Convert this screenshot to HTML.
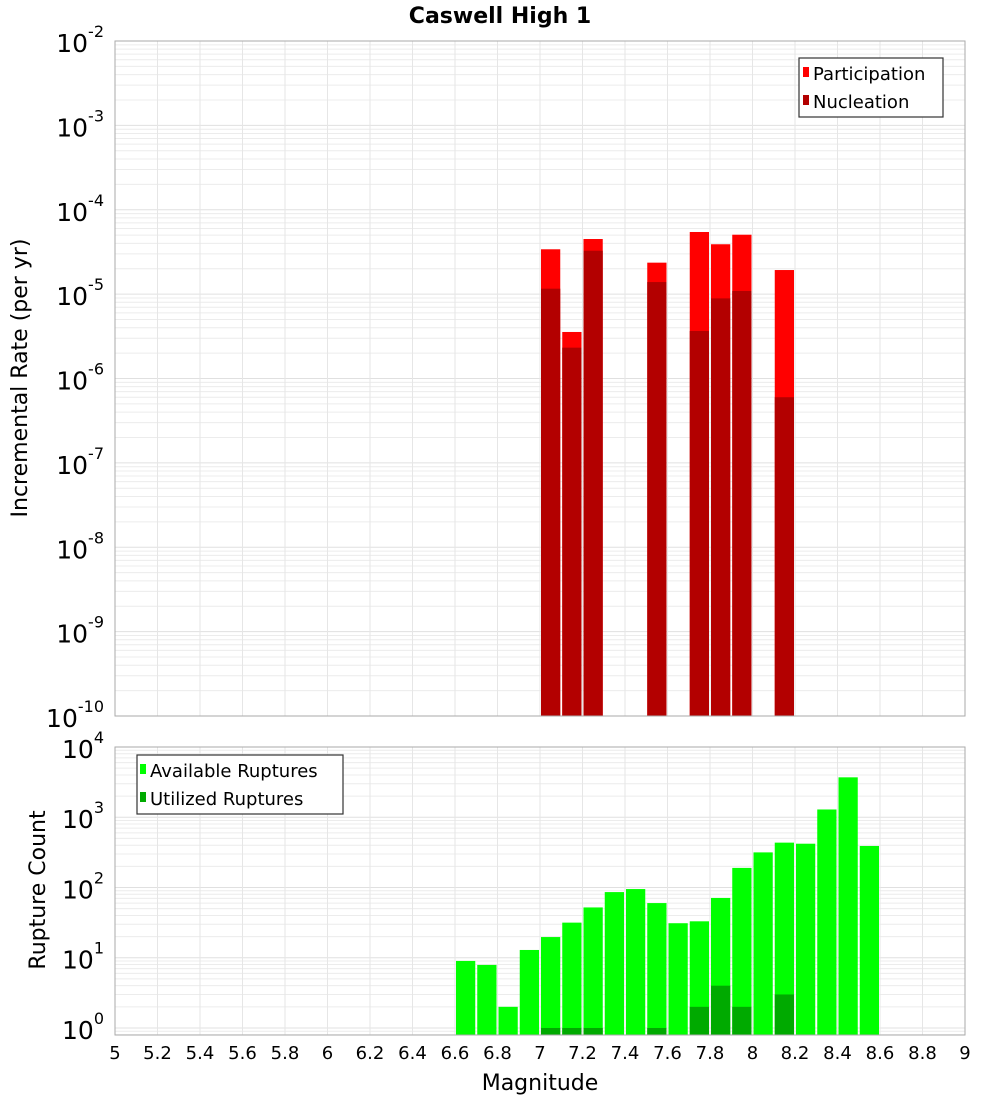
<!DOCTYPE html>
<html><head><meta charset="utf-8"><style>
body{margin:0;background:#fff;}
svg{display:block;font-family:"DejaVu Sans","Liberation Sans",sans-serif;}
</style></head><body>
<svg id="c" width="1000" height="1100" viewBox="0 0 1000 1100" xmlns="http://www.w3.org/2000/svg">
<text x="500" y="23" text-anchor="middle" font-size="22" font-weight="bold">Caswell High 1</text>
<g id="top"></g>
<g id="bot"></g>
<text transform="translate(27,378) rotate(-90)" text-anchor="middle" font-size="22">Incremental Rate (per yr)</text>
<text transform="translate(45,890) rotate(-90)" text-anchor="middle" font-size="22">Rupture Count</text>
<text x="540" y="1090" text-anchor="middle" font-size="22">Magnitude</text>
<g>
<rect x="799" y="58" width="144" height="59" fill="#fff" stroke="#333" stroke-width="1.2"/>
<rect x="803" y="67" width="6" height="10" fill="#ff0000"/>
<text x="813" y="80" font-size="18">Participation</text>
<rect x="803" y="95" width="6" height="10" fill="#b30000"/>
<text x="813" y="108" font-size="18">Nucleation</text>
</g>
<g>
<rect x="137" y="755" width="206" height="59" fill="#fff" stroke="#333" stroke-width="1.2"/>
<rect x="140" y="764" width="6" height="10" fill="#00ff00"/>
<text x="150" y="777" font-size="18">Available Ruptures</text>
<rect x="140" y="792" width="6" height="10" fill="#00aa00"/>
<text x="150" y="805" font-size="18">Utilized Ruptures</text>
</g>
</svg>
<script>
const rateMags=[7.05,7.15,7.25,7.55,7.75,7.85,7.95,8.15];
const participation=[3.4e-5,3.56e-6,4.5e-5,2.36e-5,5.45e-5,3.9e-5,5.06e-5,1.93e-5];
const nucleation=[1.16e-5,2.32e-6,3.27e-5,1.39e-5,3.66e-6,8.9e-6,1.09e-5,6.0e-7];
const countMags=[6.65,6.75,6.85,6.95,7.05,7.15,7.25,7.35,7.45,7.55,7.65,7.75,7.85,7.95,8.05,8.15,8.25,8.35,8.45,8.55];
const available=[9,7.9,2,12.9,19.7,31.6,52,86,95,60,31,33,71,190,316,435,420,1290,3700,390];
const utilized=[0,0,0,0,1,1,1,0,0,1,0,2,4,2,0,3,0,0,0,0];
const xTicks=["5","5.2","5.4","5.6","5.8","6","6.2","6.4","6.6","6.8","7","7.2","7.4","7.6","7.8","8","8.2","8.4","8.6","8.8","9"];
const rateExps=[-10,-9,-8,-7,-6,-5,-4,-3,-2];
const countExps=[0,1,2,3,4];

const NS="http://www.w3.org/2000/svg";
const L=115,R=965;
const xs=m=>L+(m-5)/4*(R-L);
function mk(p,t,a){const e=document.createElementNS(NS,t);for(const k in a)e.setAttribute(k,a[k]);p.appendChild(e);return e;}
function plot(g,top,bot,lo,hi,exps,name){
  const ys=v=>bot-(Math.log10(v)-lo)/(hi-lo)*(bot-top);
  for(let d=Math.floor(lo);d<hi;d++)for(let k=1;k<10;k++){const v=k*Math.pow(10,d);const lv=Math.log10(v);if(lv<lo||lv>hi)continue;const y=ys(v);
    const ln=mk(g,'line',{x1:L,x2:R,y1:y,y2:y,stroke:k==1?'#e0e0e0':'#ececec','stroke-width':1});
    }
  xTicks.forEach(t=>{const x=xs(+t);const ln=mk(g,'line',{x1:x,x2:x,y1:top,y2:bot,stroke:'#e6e6e6','stroke-width':1});
    });
  exps.forEach(e=>{const y=ys(Math.pow(10,e));const t=mk(g,'text',{x:104,y:y+11,'text-anchor':'end','font-size':25});
    
    t.textContent='10';const s=document.createElementNS(NS,'tspan');s.setAttribute('dy','-15');s.setAttribute('font-size','16');s.textContent=String(e);t.appendChild(s);});
  return ys;
}
function bars(g,ys,bot,mags,vals,color,name){
  mags.forEach((m,i)=>{if(!(vals[i]>0))return;const x0=xs(m-0.05)+1,x1=xs(m+0.05)-1;const y=ys(vals[i]);
    const r=mk(g,'rect',{x:x0,y:y,width:x1-x0,height:bot-y,fill:color});
    });
}
const gt=document.getElementById('top'),gb=document.getElementById('bot');
const ysT=plot(gt,41,716,-10,-2,rateExps,'rate');
bars(gt,ysT,716,rateMags,participation,'#ff0000','participation');
bars(gt,ysT,716,rateMags,nucleation,'#b30000','nucleation');
mk(gt,'rect',{x:L,y:41,width:R-L,height:675,fill:'none',stroke:'#aaa'});
const ysB=plot(gb,747,1035,-0.1,4,countExps,'count');
bars(gb,ysB,1035,countMags,available,'#00ff00','available');
bars(gb,ysB,1035,countMags,utilized,'#00aa00','utilized');
mk(gb,'rect',{x:L,y:747,width:R-L,height:288,fill:'none',stroke:'#aaa'});
xTicks.forEach(t=>{const e=mk(gb,'text',{x:xs(+t),y:1059,'text-anchor':'middle','font-size':18});
  e.textContent=t;});
</script>
</body></html>
